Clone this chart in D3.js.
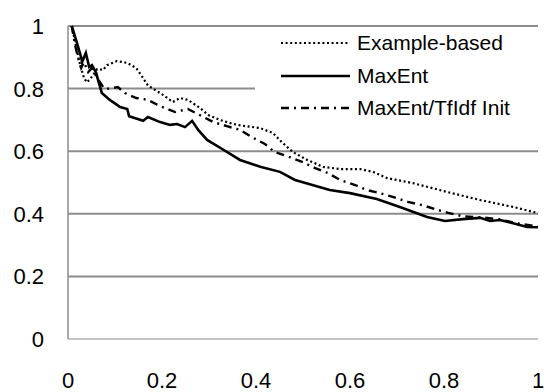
<!DOCTYPE html>
<html>
<head>
<meta charset="utf-8">
<script src="https://d3js.org/d3.v7.min.js"></script>
<style>
  body { margin: 0; background: #fff; }
  text { font-family: "Liberation Sans", Arial, sans-serif; }
</style>
</head>
<body>
<script>
// chart recreated with d3

var w = 544;
var h = 392;
var plotLeft = 68, plotRight = 538, plotTop = 26, plotBottom = 339;

var xTicks = [0, 0.2, 0.4, 0.6, 0.8, 1];
var yTicks = [0, 0.2, 0.4, 0.6, 0.8, 1];
var seriesNames = ["Example-based", "MaxEnt", "MaxEnt/TfIdf Init"];

// Example-based (dotted)
var exampleBased = [
  [0.008, 1.0], [0.019, 0.92], [0.026, 0.875], [0.034, 0.834], [0.04, 0.82],
  [0.047, 0.83], [0.062, 0.862], [0.075, 0.86], [0.083, 0.875], [0.104, 0.888],
  [0.126, 0.882], [0.145, 0.866], [0.157, 0.84], [0.17, 0.81], [0.185, 0.796],
  [0.202, 0.78], [0.223, 0.757], [0.238, 0.77], [0.255, 0.764], [0.281, 0.738],
  [0.298, 0.716], [0.323, 0.70], [0.351, 0.687], [0.377, 0.68], [0.409, 0.674],
  [0.436, 0.658], [0.457, 0.626], [0.479, 0.597], [0.509, 0.572], [0.543, 0.55],
  [0.579, 0.543], [0.621, 0.543], [0.649, 0.534], [0.679, 0.514], [0.734, 0.498],
  [0.806, 0.47], [0.877, 0.444], [0.947, 0.422], [1.0, 0.402]
];

// MaxEnt (solid)
var maxEnt = [
  [0.008, 1.0], [0.019, 0.946], [0.028, 0.90], [0.03, 0.885], [0.038, 0.914],
  [0.045, 0.869], [0.051, 0.875], [0.06, 0.85], [0.064, 0.827], [0.072, 0.786],
  [0.089, 0.764], [0.111, 0.741], [0.126, 0.735], [0.13, 0.712], [0.16, 0.697],
  [0.17, 0.709], [0.196, 0.693], [0.217, 0.684], [0.232, 0.687], [0.249, 0.677],
  [0.264, 0.697], [0.277, 0.668], [0.296, 0.636], [0.328, 0.607], [0.366, 0.572],
  [0.409, 0.55], [0.451, 0.534], [0.483, 0.508], [0.557, 0.476], [0.6, 0.466],
  [0.657, 0.447], [0.706, 0.422], [0.764, 0.39], [0.802, 0.377], [0.84, 0.383],
  [0.877, 0.387], [0.898, 0.377], [0.919, 0.38], [0.947, 0.37], [0.977, 0.358],
  [1.0, 0.357]
];

// MaxEnt/TfIdf Init (dash-dot)
var maxEntTfIdf = [
  [0.008, 1.0], [0.015, 0.94], [0.021, 0.90], [0.028, 0.866], [0.034, 0.885],
  [0.043, 0.853], [0.051, 0.866], [0.062, 0.834], [0.077, 0.80], [0.089, 0.80],
  [0.106, 0.805], [0.121, 0.786], [0.145, 0.77], [0.17, 0.764], [0.196, 0.744],
  [0.228, 0.725], [0.255, 0.735], [0.285, 0.712], [0.309, 0.693], [0.338, 0.68],
  [0.366, 0.668], [0.391, 0.645], [0.419, 0.623], [0.44, 0.597], [0.472, 0.581],
  [0.498, 0.566], [0.526, 0.546], [0.553, 0.53], [0.579, 0.508], [0.611, 0.492],
  [0.636, 0.476], [0.664, 0.466], [0.691, 0.454], [0.723, 0.438], [0.753, 0.428],
  [0.781, 0.415], [0.809, 0.403], [0.84, 0.392], [0.877, 0.389], [0.919, 0.382],
  [0.947, 0.372], [1.0, 0.359]
];

window.onload = function() {

  var x = d3.scaleLinear().domain([0, 1]).range([plotLeft, plotRight]);
  var y = d3.scaleLinear().domain([0, 1]).range([plotBottom, plotTop]);

  var svg = d3.select("body")
              .append("svg")
              .attr("width", w)
              .attr("height", h);

  // gridlines
  svg.selectAll("line.grid")
     .data(yTicks)
     .enter()
     .append("line")
     .attr("class", "grid")
     .attr("x1", x(0))
     .attr("x2", x(1))
     .attr("y1", function(d) { return y(d); })
     .attr("y2", function(d) { return y(d); })
     .attr("stroke", function(d) { return d == 0 ? "#c4c4c4" : "#8c8c8c"; })
     .attr("stroke-width", 2);

  // left axis line
  svg.append("line")
     .attr("x1", x(0)).attr("x2", x(0))
     .attr("y1", y(1)).attr("y2", y(0))
     .attr("stroke", "#8c8c8c")
     .attr("stroke-width", 1.5);

  // tick labels
  svg.selectAll("text.ylab")
     .data(yTicks)
     .enter()
     .append("text")
     .attr("class", "ylab")
     .attr("x", 44)
     .attr("y", function(d) { return y(d) + 8; })
     .attr("text-anchor", "end")
     .attr("font-size", "22px")
     .text(function(d) { return d; });

  svg.selectAll("text.xlab")
     .data(xTicks)
     .enter()
     .append("text")
     .attr("class", "xlab")
     .attr("x", function(d) { return x(d); })
     .attr("y", 388)
     .attr("text-anchor", "middle")
     .attr("font-size", "22px")
     .text(function(d) { return d; });

  // legend box hides part of the 0.8 gridline
  svg.append("rect")
     .attr("x", 255).attr("y", 28)
     .attr("width", 290).attr("height", 92)
     .attr("fill", "#fff");

  var line = d3.line()
               .x(function(d) { return x(d[0]); })
               .y(function(d) { return y(d[1]); });

  var styles = [
    { data: exampleBased, dash: "2,2.6", width: 2.2 },
    { data: maxEnt, dash: null, width: 2.6 },
    { data: maxEntTfIdf, dash: "8,5,2,5", width: 2.4 }
  ];

  styles.forEach(function(s) {
    svg.append("path")
       .datum(s.data)
       .attr("d", line)
       .attr("fill", "none")
       .attr("stroke", "#000")
       .attr("stroke-width", s.width)
       .attr("stroke-dasharray", s.dash);
  });

  // legend
  var legendY = [43, 76, 108];
  seriesNames.forEach(function(name, i) {
    svg.append("line")
       .attr("x1", 281).attr("x2", 350)
       .attr("y1", legendY[i]).attr("y2", legendY[i])
       .attr("stroke", "#000")
       .attr("stroke-width", styles[i].width)
       .attr("stroke-dasharray", styles[i].dash);
    svg.append("text")
       .attr("x", 357)
       .attr("y", legendY[i] + 7)
       .attr("font-size", "21px")
       .text(name);
  });
};
</script>
</body>
</html>
